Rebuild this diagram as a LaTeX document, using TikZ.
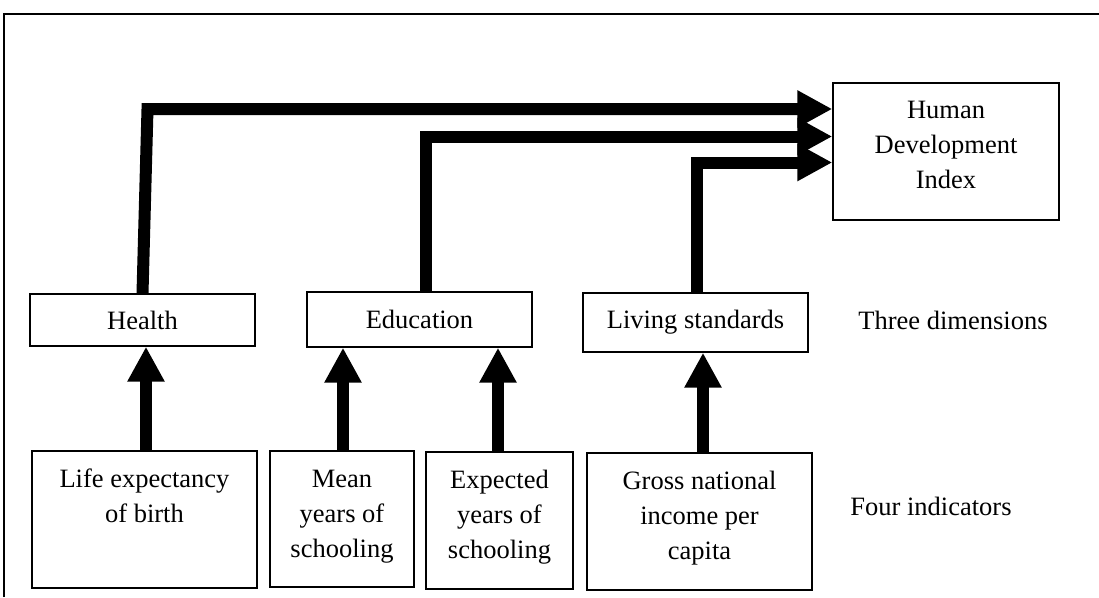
\documentclass[tikz,border=0pt]{standalone}
\usepackage{fontspec}
\setmainfont{Liberation Serif}
\usetikzlibrary{arrows.meta}
\begin{document}
\begin{tikzpicture}[x=1pt,y=-1pt,
  txt/.style={font=\fontsize{26.5}{35}\selectfont, inner sep=0pt},
  box/.style={txt, draw, line width=1.4pt, minimum width=#1},
  onebox/.style={box=225pt},
  big/.style={line width=12pt, line join=miter, -{Triangle[length=35pt,width=35pt]}},
]
\useasboundingbox (0,0) rectangle (1099,597);
% frame
\draw[line width=1.5pt] (4,597) -- (4,14) -- (1099,14);

% three dimensions
\node[onebox, minimum height=52pt] (health) at (142.5,320) {Health};
\node[onebox, minimum height=55pt] (edu) at (419.5,319.5) {Education};
\node[onebox, minimum height=59pt] (living) at (695.5,322.5) {Living standards};

% HDI
\node[box=226pt] (hdi) at (946,151.5)
  {\parbox[c][137pt][t]{224pt}{\centering\rule{0pt}{35pt}Human\\Development\\Index}};

% four indicators
\node[box=225pt] (life) at (144.5,519.5)
  {\parbox[c][137pt][t]{223pt}{\centering\rule{0pt}{36pt}Life expectancy\\of birth}};
\node[box=144pt] (mean) at (342,519)
  {\parbox[c][136pt][t]{142pt}{\centering\rule{0pt}{36pt}Mean\\years of\\schooling}};
\node[box=147pt] (expected) at (499.5,520.5)
  {\parbox[c][137pt][t]{145pt}{\centering\rule{0pt}{36pt}Expected\\years of\\schooling}};
\node[box=225pt] (gross) at (699.5,521.5)
  {\parbox[c][137pt][t]{223pt}{\centering\rule{0pt}{36pt}Gross national\\income per\\capita}};

% side labels
\node[txt, anchor=base] (three) at (953,329) {Three dimensions};
\node[txt, anchor=base] (four) at (931,515) {Four indicators};

% indicator -> dimension arrows
\draw[big] ([xshift=1.5pt]life.north) -- ([xshift=1.5pt]life.north |- health.south);
\draw[big] ([xshift=1pt]mean.north) -- ([xshift=1pt]mean.north |- edu.south);
\draw[big] ([xshift=-1.5pt]expected.north) -- ([xshift=-1.5pt]expected.north |- edu.south);
\draw[big] ([xshift=3.5pt]gross.north) -- ([xshift=3.5pt]gross.north |- living.south);

% dimension -> HDI arrows
\draw[big] (health.north) -- (147.5,109) -- (hdi.west |- 0,109);
\draw[big] ([xshift=6pt]edu.north) -- (425.5,136.5) -- (hdi.west |- 0,136.5);
\draw[big] ([xshift=1.5pt]living.north) -- (697,162.5) -- (hdi.west |- 0,162.5);
\end{tikzpicture}
\end{document}
